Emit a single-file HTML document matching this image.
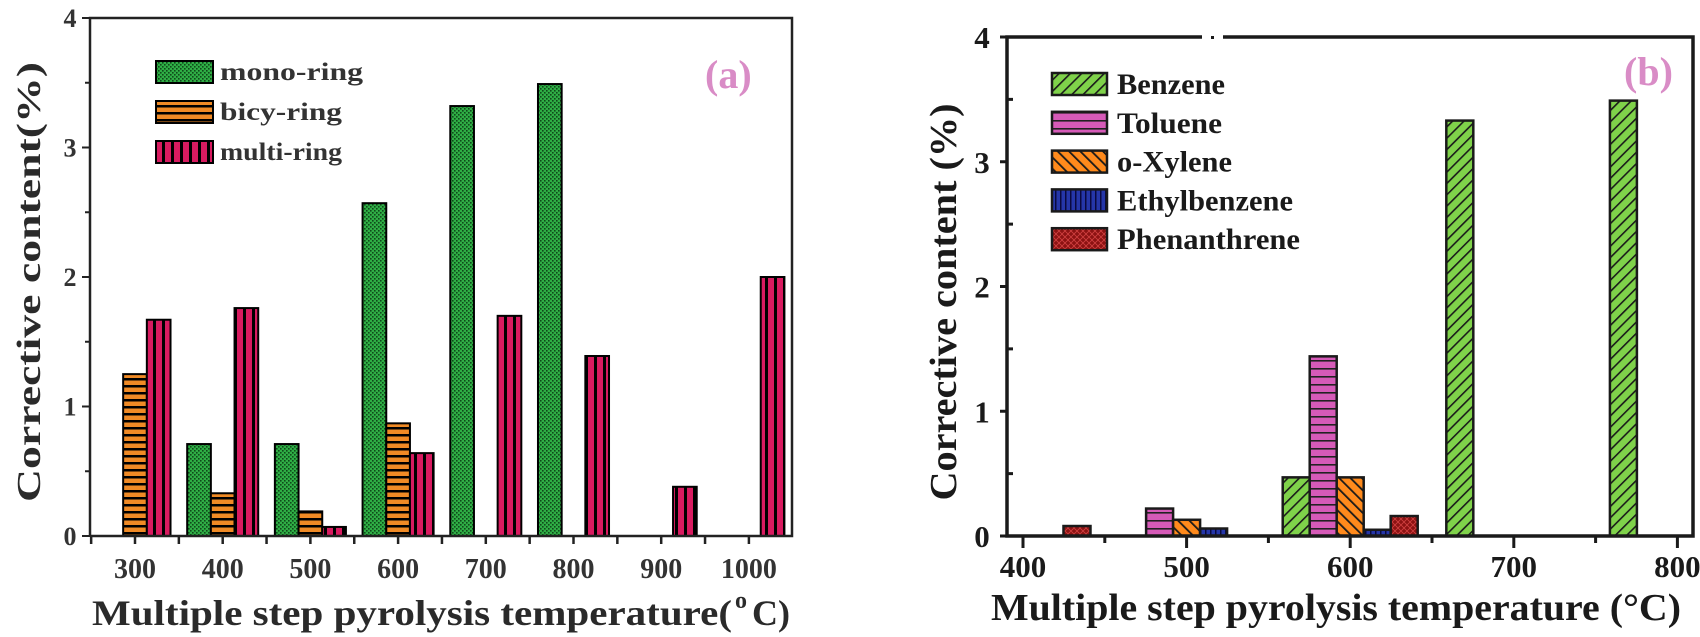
<!DOCTYPE html>
<html><head><meta charset="utf-8"><style>
html,body{margin:0;padding:0;background:#fff;}
svg{display:block;}
</style></head><body>
<svg id="chart" width="1700" height="637" viewBox="0 0 1700 637" xmlns="http://www.w3.org/2000/svg">
<defs>
<pattern id="pMono" width="4" height="4" patternUnits="userSpaceOnUse"><rect width="4" height="4" fill="#2fae45"/><rect x="0" y="0" width="1.6" height="1.6" fill="#0f4a1a"/><rect x="2" y="2" width="1.6" height="1.6" fill="#0f4a1a"/></pattern>
<pattern id="pBicy" width="6" height="7" patternUnits="userSpaceOnUse"><rect width="6" height="7" fill="#f08a25"/><rect y="0" width="6" height="2.5" fill="#000"/></pattern>
<pattern id="pMulti" width="9" height="6" patternUnits="userSpaceOnUse"><rect width="9" height="6" fill="#d81b60"/><rect x="0" width="3" height="6" fill="#000"/></pattern>
<pattern id="pBenz" width="8" height="8" patternUnits="userSpaceOnUse" patternTransform="rotate(45)"><rect width="8" height="8" fill="#7fd24a"/><rect width="1.6" height="8" fill="#1a1a1a"/></pattern>
<pattern id="pTol" width="6" height="8" patternUnits="userSpaceOnUse"><rect width="6" height="8" fill="#d65ab8"/><rect width="6" height="1.6" fill="#222"/></pattern>
<pattern id="pXyl" width="8" height="8" patternUnits="userSpaceOnUse" patternTransform="rotate(-45)"><rect width="8" height="8" fill="#ff8a1c"/><rect width="1.8" height="8" fill="#1a1a1a"/></pattern>
<pattern id="pEth" width="5" height="6" patternUnits="userSpaceOnUse"><rect width="5" height="6" fill="#2536a8"/><rect width="1.5" height="6" fill="#0a0a40"/></pattern>
<pattern id="pPhen" width="6" height="6" patternUnits="userSpaceOnUse"><rect width="6" height="6" fill="#8c1212"/><path d="M0 0L6 6M6 0L0 6" stroke="#d04040" stroke-width="0.8"/></pattern>
</defs>
<g id="pa"></g>
<g id="pb"></g>
</svg>
<script>
// Panel (a) data
const aCategories = [300, 400, 500, 600, 700, 800, 900, 1000];
const aMono  = [0, 0.71, 0.71, 2.57, 3.32, 3.49, 0, 0];
const aBicy  = [1.25, 0.33, 0.19, 0.87, 0, 0, 0, 0];
const aMulti = [1.67, 1.76, 0.07, 0.64, 1.70, 1.39, 0.38, 2.0];
const aYTicks = [0, 1, 2, 3, 4];
const aSeriesNames = ["mono-ring", "bicy-ring", "multi-ring"];
// Panel (b) data
const bCategories = [400, 500, 600, 700, 800];
const bBenzene = [0, 0, 0.47, 3.33, 3.49];
const bToluene = [0, 0.22, 1.44, 0, 0];
const bXylene  = [0, 0.13, 0.47, 0, 0];
const bEthyl   = [0, 0.06, 0.05, 0, 0];
const bPhen    = [0.08, 0, 0.16, 0, 0];
const bYTicks = [0, 1, 2, 3, 4];
const bSeriesNames = ["Benzene", "Toluene", "o-Xylene", "Ethylbenzene", "Phenanthrene"];

const NS = "http://www.w3.org/2000/svg";
function mk(parent, tag, attrs, text){
  const e = document.createElementNS(NS, tag);
  for (const k in attrs) e.setAttribute(k, attrs[k]);
  if (text !== undefined) e.textContent = text;
  parent.appendChild(e);
  return e;
}

// ---------- Panel A ----------
(function(){
  const g = document.getElementById('pa');
  const x0 = 90, x1 = 792, yTop = 18, yBot = 536;
  const xS = v => 135 + (v - 300) * 0.877;
  const yS = v => yBot - v * (yBot - yTop) / 4;
  const slot = 27;
  const serif = '"Liberation Serif", serif';
  const series = [[aMono, 'url(#pMono)', -1], [aBicy, 'url(#pBicy)', 0], [aMulti, 'url(#pMulti)', 1]];
  series.forEach((s, si) => {
    s[0].forEach((v, i) => {
      if (v <= 0) return;
      const cx = aCategories[i] + s[2] * slot;
      const xl = xS(cx - slot / 2), xr = xS(cx + slot / 2);
      const r = mk(g, 'rect', {x: xl, y: yS(v), width: xr - xl, height: yS(0) - yS(v), fill: s[1], stroke: '#000', 'stroke-width': 2});
      
      
    });
  });
  const fr = mk(g, 'path', {d: `M${x0} ${yBot}V${yTop}H${x1}V${yBot}H${x0}`, fill: 'none', stroke: '#222', 'stroke-width': 2.5});
  
  
  aYTicks.forEach(t => {
    mk(g, 'line', {x1: x0 - 8, x2: x0, y1: yS(t), y2: yS(t), stroke: '#222', 'stroke-width': 2});
    if (t < 4) mk(g, 'line', {x1: x0 - 5, x2: x0, y1: yS(t + 0.5), y2: yS(t + 0.5), stroke: '#222', 'stroke-width': 2});
    const lb = mk(g, 'text', {x: 70, y: yS(t) + 9, 'text-anchor': 'middle', 'font-family': serif, 'font-weight': 'bold', 'font-size': 26, fill: '#333'}, String(t));
    
    
  });
  for (let v = 250; v <= 1050; v += 50) {
    const x = xS(v);
    if (x < x0 || x > x1) continue;
    mk(g, 'line', {x1: x, x2: x, y1: yBot, y2: yBot + 8, stroke: '#222', 'stroke-width': 2.5});
  }
  aCategories.forEach(c => {
    const lb = mk(g, 'text', {x: xS(c), y: 578, 'text-anchor': 'middle', 'font-family': serif, 'font-weight': 'bold', 'font-size': 28, fill: '#333'}, String(c));
    
    
  });
  const xt = mk(g, 'text', {x: 92, y: 625, 'font-family': serif, 'font-weight': 'bold', 'font-size': 36, fill: '#2a2a2a', textLength: 640, lengthAdjust: 'spacingAndGlyphs'}, 'Multiple step pyrolysis temperature(');
  
  
  mk(g, 'text', {x: 735, y: 608, 'font-family': serif, 'font-weight': 'bold', 'font-size': 24, fill: '#2a2a2a'}, 'o');
  mk(g, 'text', {x: 752, y: 625, 'font-family': serif, 'font-weight': 'bold', 'font-size': 36, fill: '#2a2a2a'}, 'C)');
  const yt = mk(g, 'text', {x: 0, y: 0, transform: 'translate(40,282) rotate(-90)', 'text-anchor': 'middle', 'font-family': serif, 'font-weight': 'bold', 'font-size': 34, fill: '#2a2a2a', textLength: 440, lengthAdjust: 'spacingAndGlyphs'}, 'Corrective content(%)');
  
  
  const fills = ['url(#pMono)', 'url(#pBicy)', 'url(#pMulti)'];
  aSeriesNames.forEach((n, i) => {
    const y = 61 + i * 40;
    const lg = mk(g, 'g', {});
    
    
    mk(lg, 'rect', {x: 156, y: y, width: 57, height: 22, fill: fills[i], stroke: '#000', 'stroke-width': 2});
    mk(lg, 'text', {x: 220, y: y + 19, 'font-family': serif, 'font-weight': 'bold', 'font-size': 25, fill: '#333', textLength: n === 'mono-ring' ? 143 : 122, lengthAdjust: 'spacingAndGlyphs'}, n);
  });
  const pl = mk(g, 'text', {x: 705, y: 88, 'font-family': serif, 'font-weight': 'bold', 'font-size': 40, fill: '#d98cc6'}, '(a)');
  
  
})();

// ---------- Panel B ----------
(function(){
  const g = document.getElementById('pb');
  const x0 = 1007, x1 = 1693, yTop = 37, yBot = 536;
  const xS = v => 1023 + (v - 400) * 1.636;
  const yS = v => yBot - v * (yBot - yTop) / 4;
  const slot = 16.5;
  const serif = '"Liberation Serif", serif';
  const series = [[bBenzene, 'url(#pBenz)', -2], [bToluene, 'url(#pTol)', -1], [bXylene, 'url(#pXyl)', 0], [bEthyl, 'url(#pEth)', 1], [bPhen, 'url(#pPhen)', 2]];
  series.forEach((s, si) => {
    s[0].forEach((v, i) => {
      if (v <= 0) return;
      const cx = bCategories[i] + s[2] * slot;
      const xl = xS(cx - slot / 2), xr = xS(cx + slot / 2);
      const r = mk(g, 'rect', {x: xl, y: yS(v), width: xr - xl, height: yS(0) - yS(v), fill: s[1], stroke: '#1a1a1a', 'stroke-width': 2.5});
      
      
    });
  });
  const fr = mk(g, 'path', {d: `M1202 ${yTop}H${x0}V${yBot}H${x1}V${yTop}H1223`, fill: 'none', stroke: '#1a1a1a', 'stroke-width': 3.5});
  
  
  mk(g, 'rect', {x: 1211, y: yTop - 1, width: 3, height: 3, fill: '#1a1a1a'});
  bYTicks.forEach(t => {
    mk(g, 'line', {x1: x0 - 7, x2: x0, y1: yS(t), y2: yS(t), stroke: '#1a1a1a', 'stroke-width': 3});
    if (t < 4) mk(g, 'line', {x1: x0, x2: x0 + 6, y1: yS(t + 0.5), y2: yS(t + 0.5), stroke: '#1a1a1a', 'stroke-width': 3});
    const lb = mk(g, 'text', {x: 982, y: yS(t) + 11, 'text-anchor': 'middle', 'font-family': serif, 'font-weight': 'bold', 'font-size': 31, fill: '#1a1a1a'}, String(t));
    
    
  });
  for (let v = 400; v <= 800; v += 50) {
    const x = xS(v);
    const major = v % 100 === 0;
    mk(g, 'line', {x1: x, x2: x, y1: yBot, y2: yBot + (major ? 12 : 7), stroke: '#1a1a1a', 'stroke-width': 3});
  }
  bCategories.forEach(c => {
    const lb = mk(g, 'text', {x: xS(c), y: 577, 'text-anchor': 'middle', 'font-family': serif, 'font-weight': 'bold', 'font-size': 31, fill: '#1a1a1a'}, String(c));
    
    
  });
  const xt = mk(g, 'text', {x: 991, y: 620, 'font-family': serif, 'font-weight': 'bold', 'font-size': 38, fill: '#1a1a1a', textLength: 690, lengthAdjust: 'spacingAndGlyphs'}, 'Multiple step pyrolysis temperature (°C)');
  
  
  const yt = mk(g, 'text', {x: 0, y: 0, transform: 'translate(956,302) rotate(-90)', 'text-anchor': 'middle', 'font-family': serif, 'font-weight': 'bold', 'font-size': 38, fill: '#1a1a1a', textLength: 397, lengthAdjust: 'spacingAndGlyphs'}, 'Corrective content (%)');
  
  
  const fills = ['url(#pBenz)', 'url(#pTol)', 'url(#pXyl)', 'url(#pEth)', 'url(#pPhen)'];
  const tl = [108, 105, 115, 176, 183];
  bSeriesNames.forEach((n, i) => {
    const y = 73 + i * 38.8;
    const lg = mk(g, 'g', {});
    
    
    mk(lg, 'rect', {x: 1052, y: y, width: 55, height: 22, fill: fills[i], stroke: '#1a1a1a', 'stroke-width': 2.5});
    mk(lg, 'text', {x: 1117, y: y + 21, 'font-family': serif, 'font-weight': 'bold', 'font-size': 30, fill: '#1a1a1a', textLength: tl[i], lengthAdjust: 'spacingAndGlyphs'}, n);
  });
  const pl = mk(g, 'text', {x: 1624, y: 85, 'font-family': serif, 'font-weight': 'bold', 'font-size': 40, fill: '#d98cc6'}, '(b)');
  
  
})();
</script>
</body></html>
